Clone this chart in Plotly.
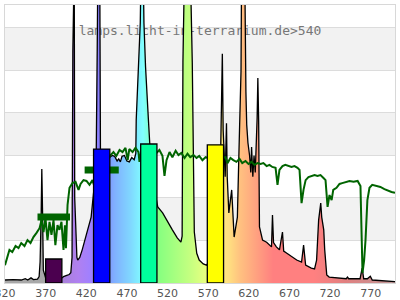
import plotly.graph_objects as go

# ---- data ----
lamp_nm = [320, 330, 340, 345, 348, 352, 355, 360, 362, 363.2, 364.5, 365.3, 366.2, 367.2, 370,
           380, 390, 392, 396, 399, 401, 402.5, 403.5, 404.3, 405.2, 405.8, 407, 408.5, 409.5,
           412, 415, 421, 426, 429, 432, 433.5, 434.5, 436.5, 437.5, 440, 445, 449, 452, 455,
           458, 460, 462, 464, 467, 470, 473, 476, 479, 481, 481.5, 484.5, 486.5, 487.5, 490,
           491, 493, 496.5, 499, 503, 508, 514, 520, 526, 532, 536.5, 538, 539, 541, 548, 550.5,
           552, 553, 556, 559, 564, 568, 575, 580, 584, 586, 587, 587.5, 588.5, 589.5, 591,
           592.6, 593.5, 595.5, 597, 599, 602, 606, 608, 609, 610.5, 611.2, 615, 616.5, 617.5,
           619, 621, 622.5, 623.5, 625, 626.5, 628, 629.5, 630.3, 631.2, 632.2, 633.2, 635.7,
           637, 642, 645.5, 648, 649.2, 650.5, 654, 657.8, 661.5, 663, 666, 673, 679, 685,
           687.5, 690, 697, 701, 703.5, 706, 708.6, 709.8, 712.3, 713.5, 716, 719, 730, 740,
           741.5, 743, 750, 757, 759.6, 761.5, 766, 769.6, 772, 785, 800]
lamp_val = [0.07, 0.08, 0.07, 0.10, 0.07, 0.12, 0.08, 0.09, 0.15, 0.5, 1.6, 2.68, 1.7, 0.3, 0.12,
            0.1, 0.12, 0.15, 0.18, 0.2, 0.24, 0.6, 5.44, 7.5, 7.5, 2.0, 1.18, 0.6, 0.54,
            0.6, 0.78, 1.18, 1.55, 2.12, 2.5, 5.48, 8.0, 8.0, 3.0, 2.8, 2.9, 2.96, 3.0, 2.98,
            2.87, 2.92, 2.85, 2.98, 3.0, 2.87, 2.85, 2.95, 2.9, 3.05, 3.84, 5.08, 6.12, 7.5, 7.5,
            6.12, 5.08, 3.84, 3.0, 2.3, 1.79, 1.65, 1.44, 1.25, 1.06, 0.96, 1.1, 5.2, 7.5, 7.5, 5.18,
            2.5, 1.2, 0.7, 0.54, 0.45, 0.42, 0.6, 1.0, 1.5, 3.4, 5.0, 5.39, 3.6, 3.0, 2.5,
            3.76, 2.5, 1.65, 1.9, 2.19, 1.08, 1.55, 3.13, 3.9, 5.0, 7.5, 7.5, 4.5, 3.72,
            3.3, 3.0, 2.6, 3.2, 2.5, 3.0, 2.6, 3.2, 3.88, 4.82, 3.8, 1.32, 1.08,
            1.01, 0.96, 0.89, 0.85, 1.6, 0.95, 0.85, 0.78, 1.2, 0.75, 0.71, 0.61, 0.54, 0.49,
            0.89, 0.42, 0.35, 0.33, 0.54, 1.48, 1.88, 1.55, 1.25, 0.78, 0.19, 0.14, 0.12, 0.1,
            0.14, 0.1, 0.1, 0.1, 0.35, 0.1, 0.1, 0.16, 0.07, 0.05, 0.03]

sun_nm = [320, 323, 325.5, 329, 333, 336.6, 340, 344, 347.7, 351.4, 355, 358.8, 362.5, 365, 367.4,
          369.8, 372.3, 374.8, 377.2, 379.7, 382, 384.6, 387, 389.5, 392, 393.8, 395, 397, 399.4,
          403, 406.8, 410.5, 413, 416.6, 420.3, 424, 427.7, 431.4, 436, 441, 446, 450, 453.5, 457,
          461, 464.6, 468.3, 471, 473, 477, 480.6, 484.3, 485.5, 488, 491.7, 495.4, 499, 502.8,
          506.5, 510, 513.8, 516.3, 518.8, 522.5, 526, 530, 533.5, 537, 541, 544.6, 548, 552,
          555.7, 559, 563, 566.8, 570, 575, 580, 585, 591.4, 593.8, 597.5, 601, 604.8, 608.6,
          612, 616, 619.7, 623.4, 627, 630.8, 634.5, 638, 642, 645.5, 649, 653, 655.4, 657.8,
          661.5, 665, 669, 672.6, 676.3, 680, 682.5, 685, 687.4, 690, 693.5, 697, 701, 704.6,
          708.3, 712, 714.5, 717, 719.4, 722, 724, 728, 731.7, 735, 739, 744, 749, 754, 757.5,
          758.8, 760, 762, 763.7, 766, 768.6, 772, 777, 782, 787, 792, 795.7, 800]
sun_val = [0.42, 0.59, 0.78, 0.73, 0.87, 0.82, 0.94, 0.87, 1.01, 0.94, 1.08, 1.18, 1.29, 1.48, 1.20,
           1.53, 1.01, 1.44, 1.13, 1.48, 0.89, 1.36, 1.25, 1.44, 0.78, 1.36, 0.82, 1.84, 2.24,
           2.35, 2.38, 2.19, 2.33, 2.42, 2.40, 2.31, 2.42, 2.19, 2.66, 2.78, 2.89, 3.01, 3.08, 2.99,
           3.13, 3.08, 3.18, 2.89, 3.15, 3.08, 3.18, 3.08, 2.85, 3.13, 3.11, 3.18, 3.08, 3.13,
           3.06, 3.13, 2.99, 2.52, 2.89, 3.08, 2.96, 3.11, 3.01, 3.06, 2.94, 3.04, 2.96, 3.01,
           2.94, 2.99, 2.89, 2.96, 2.94, 2.97, 2.92, 2.95, 2.96, 2.82, 2.94, 2.89, 2.85, 2.92,
           2.82, 2.87, 2.80, 2.85, 2.78, 2.82, 2.80, 2.82, 2.75, 2.78, 2.73, 2.71, 2.31, 2.66,
           2.75, 2.78, 2.75, 2.73, 2.75, 2.71, 2.66, 1.88, 2.19, 2.42, 2.49, 2.52, 2.54, 2.52,
           2.54, 2.47, 2.42, 1.79, 2.07, 1.95, 2.19, 2.24, 2.33, 2.35, 2.38, 2.40, 2.38, 2.40, 2.28,
           1.25, 0.24, 0.54, 1.01, 1.95, 2.24, 2.31, 2.28, 2.26, 2.21, 2.16, 2.14, 2.12]

band_start = [360, 418]
band_end = [400, 460]
band_val = [1.55, 2.66]

bar_center = [380, 439, 497, 579]
bar_width = [20, 20, 20, 20]
bar_height = [0.565, 3.15, 3.27, 3.25]
bar_colors = ["#4b004f", "#0000ff", "#00ff9c", "#ffff00"]

tick_vals = [320, 370, 420, 470, 520, 570, 620, 670, 720, 770]
title_text = "lamps.licht-in-terrarium.de>540"

grad_nm = [320, 378, 390, 410, 425, 440, 455, 475, 490, 500, 510, 530, 550, 565, 580, 595,
           610, 630, 650, 700, 740, 800]
grad_col = ["#a8a8a8", "#a8a8a8", "#a880d8", "#b080f0", "#a080ff", "#8080ff", "#80b0ff",
            "#80d8ff", "#80ffff", "#80ffc0", "#88ff80", "#a8ff80", "#c8ff80", "#e4ff80",
            "#fff080", "#ffe080", "#ffc080", "#ffa080", "#ff8080", "#ff8080", "#e08080", "#c09898"]

X0, X1 = 320, 800
Y0, Y1 = 0, 6.54

fig = go.Figure()

# title text (behind data)
fig.add_trace(go.Scatter(x=[560], y=[5.91], mode="text", text=[title_text],
                         textfont=dict(family="DejaVu Sans Mono", size=13, color="#777777"),
                         hoverinfo="skip", showlegend=False))

# lamp spectrum with spectral gradient fill
cs = [[(n - X0) / (X1 - X0), c] for n, c in zip(grad_nm, grad_col)]
fig.add_trace(go.Scatter(x=lamp_nm, y=lamp_val, mode="lines", fill="tozeroy",
                         line=dict(color="black", width=1.3),
                         fillgradient=dict(type="horizontal", colorscale=cs, start=X0, stop=X1),
                         showlegend=False))

# sunlight
fig.add_trace(go.Scatter(x=sun_nm, y=sun_val, mode="lines",
                         line=dict(color="#006400", width=2), showlegend=False))

# thick band averages
bx, by = [], []
for s, e, v in zip(band_start, band_end, band_val):
    bx += [s, e, None]
    by += [v, v, None]
fig.add_trace(go.Scatter(x=bx, y=by, mode="lines", line=dict(color="#006400", width=7),
                         showlegend=False))

# bars drawn above lines
for c, w, h, col in zip(bar_center, bar_width, bar_height, bar_colors):
    fig.add_trace(go.Scatter(x=[c - w / 2, c - w / 2, c + w / 2, c + w / 2, c - w / 2],
                             y=[0, h, h, 0, 0], mode="lines", fill="toself", fillcolor=col,
                             line=dict(color="black", width=1.3), showlegend=False))

# alternating background bands
shapes = []
k = 1
while k < Y1:
    shapes.append(dict(type="rect", xref="paper", yref="y", x0=0, x1=1, y0=k, y1=min(k + 1, Y1),
                       fillcolor="#f2f2f2", line=dict(width=0), layer="below"))
    k += 2

fig.update_layout(
    width=400, height=300,
    margin=dict(l=5, r=5, t=5, b=17, autoexpand=False),
    paper_bgcolor="white", plot_bgcolor="white",
    shapes=shapes,
    showlegend=False,
    xaxis=dict(range=[X0, X1], tickvals=tick_vals, ticktext=[str(t) for t in tick_vals],
               showgrid=False, zeroline=False, showline=True, mirror=True, automargin=False,
               linecolor="#d8d8d8", linewidth=1, ticks="",
               ticklabeloverflow="allow",
               tickfont=dict(family="DejaVu Sans", size=11, color="#555555")),
    yaxis=dict(range=[Y0, Y1], dtick=1, showticklabels=False, showgrid=True, automargin=False,
               gridcolor="#dcdcdc", gridwidth=1, zeroline=False, showline=True, mirror=True,
               linecolor="#d8d8d8", linewidth=1),
)

fig.write_html("out.html")
